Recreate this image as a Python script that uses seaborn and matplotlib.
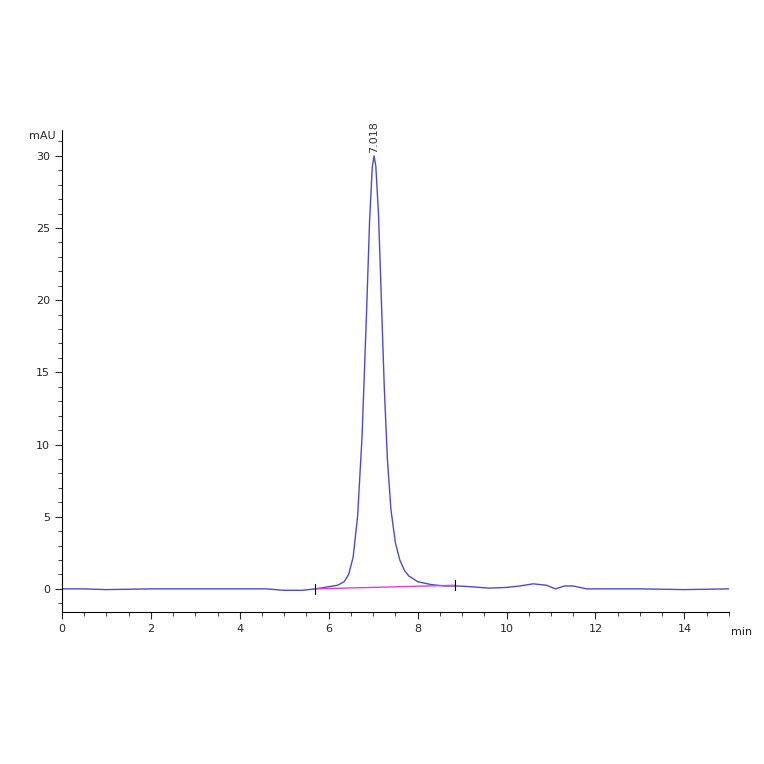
import matplotlib
matplotlib.use("Agg")
import matplotlib.pyplot as plt
import seaborn as sns
import pandas as pd
from matplotlib.ticker import MultipleLocator

time_min = [0.0, 0.5, 1.0, 2.0, 3.0, 4.0, 4.6, 5.0, 5.4, 5.7, 6.0, 6.2, 6.35, 6.45, 6.55,
            6.65, 6.75, 6.85, 6.92, 6.98, 7.02, 7.06, 7.12, 7.18, 7.25, 7.32, 7.4, 7.5,
            7.6, 7.7, 7.8, 8.0, 8.3, 8.6, 8.9, 9.2, 9.6, 10.0, 10.3, 10.6, 10.9, 11.1,
            11.3, 11.5, 11.8, 12.2, 13.0, 14.0, 15.0]
signal_mau = [0.0, 0.0, -0.05, 0.0, 0.0, 0.0, 0.0, -0.1, -0.1, 0.0, 0.15, 0.25, 0.5, 1.0, 2.2,
              5.0, 10.5, 19.0, 25.5, 29.2, 30.0, 29.3, 26.0, 20.5, 14.0, 9.0, 5.5, 3.2,
              2.0, 1.3, 0.9, 0.5, 0.3, 0.2, 0.2, 0.15, 0.05, 0.1, 0.2, 0.35, 0.25, 0.0,
              0.2, 0.2, 0.0, 0.0, 0.0, -0.05, 0.0]
baseline_t = [5.7, 8.85]
baseline_y = [0.0, 0.25]
peak_label = "7.018"
peak_t, peak_y = 7.018, 30.0

sns.set_style("white")
fig = plt.figure(figsize=(7.64, 7.64), dpi=100)
ax = fig.add_axes([0.081, 0.199, 0.873, 0.631])
df = pd.DataFrame({"t": time_min, "y": signal_mau})
sns.lineplot(data=df, x="t", y="y", ax=ax, color="#4b4bd0", linewidth=1)
sns.lineplot(x=baseline_t, y=baseline_y, ax=ax, color="#e040e0", linewidth=1)
for bt, by in zip(baseline_t, baseline_y):
    ax.plot([bt, bt], [by - 0.35, by + 0.35], color="black", linewidth=0.8)
ax.text(peak_t, peak_y + 0.2, peak_label, rotation=90, ha="center", va="bottom", fontsize=8, color="#333333")

ax.set_xlim(0, 15)
ax.set_ylim(-1.6, 31.8)
ax.xaxis.set_major_locator(MultipleLocator(2))
ax.xaxis.set_minor_locator(MultipleLocator(0.5))
ax.yaxis.set_major_locator(MultipleLocator(5))
ax.yaxis.set_minor_locator(MultipleLocator(1))
ax.tick_params(which="both", direction="out", left=True, bottom=True, labelsize=8, length=5)
ax.tick_params(which="minor", length=3)
for s in ["top", "right"]:
    ax.spines[s].set_visible(False)
for s in ["left", "bottom"]:
    ax.spines[s].set_color("black")
    ax.spines[s].set_linewidth(0.8)
ax.set_xlabel("")
ax.set_ylabel("")
ax.text(-0.15, 31.4, "mAU", ha="right", va="center", fontsize=8)
ax.text(15.05, -3.0, "min", ha="left", va="center", fontsize=8, clip_on=False)
fig.savefig("out.png", dpi=100)
